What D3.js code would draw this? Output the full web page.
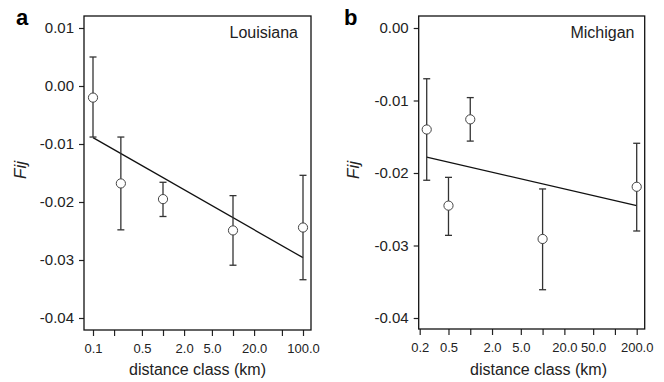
<!DOCTYPE html>
<html>
<head>
<meta charset="utf-8">
<script src="https://cdn.jsdelivr.net/npm/d3@7"></script>
<style>
  body { margin: 0; background: #fff; }
  svg { display: block; font-family: "Liberation Sans", Arial, Helvetica, sans-serif; }
  .axis path.domain { display: none; }
  .axis line { stroke: #222; stroke-width: 1.2; }
  .axis text { fill: #222; }
  .box { fill: none; stroke: #111; stroke-width: 1.3; }
  .err { stroke: #333; stroke-width: 1.3; fill: none; }
  .pt { fill: #fff; stroke: #444; stroke-width: 1; }
  .fit { stroke: #111; stroke-width: 1.3; fill: none; }
</style>
</head>
<body>
<script>
// Louisiana (panel a)
const laDist  = [0.1, 0.25, 1, 10, 100];
const laFij   = [-0.0020, -0.0168, -0.0195, -0.0249, -0.0244];
const laUpper = [0.0050, -0.0088, -0.0166, -0.0189, -0.0154];
const laLower = [-0.0088, -0.0248, -0.0225, -0.0309, -0.0334];
const laFitX  = [0.1, 100];
const laFitY  = [-0.0089, -0.0296];
const laXTicks  = [0.1, 0.2, 0.5, 1, 2, 5, 10, 20, 50, 100];
const laXLabels = [0.1, 0.5, 2, 5, 20, 100];
const laYTicks  = [0.01, 0, -0.01, -0.02, -0.03, -0.04];

// Michigan (panel b)
const miDist  = [0.25, 0.5, 1, 10, 200];
const miFij   = [-0.0140, -0.0245, -0.0126, -0.0291, -0.0219];
const miUpper = [-0.0070, -0.0206, -0.0096, -0.0222, -0.0159];
const miLower = [-0.0210, -0.0286, -0.0156, -0.0361, -0.0280];
const miFitX  = [0.25, 200];
const miFitY  = [-0.0178, -0.0245];
const miXTicks  = [0.2, 0.5, 1, 2, 5, 10, 20, 50, 100, 200];
const miXLabels = [0.2, 0.5, 2, 5, 20, 50, 200];
const miYTicks  = [0, -0.01, -0.02, -0.03, -0.04];

const svg = d3.select(document.body).append('svg')
  .attr('width', 664)
  .attr('height', 382);

const panels = [
  {
    letter: 'a', name: 'Louisiana',
    dist: laDist, fij: laFij, upper: laUpper, lower: laLower,
    fitX: laFitX, fitY: laFitY,
    xTicks: laXTicks, xLabels: laXLabels, yTicks: laYTicks,
    xDomain: [0.1, 100], xRange: [93, 303],
    yDomain: [0.01, -0.04], yRange: [28, 318],
    box: { x0: 84, x1: 311, y0: 16, y1: 330 },
    letterX: 16, nameX: 298, fijX: 26, xlabX: 197.5
  },
  {
    letter: 'b', name: 'Michigan',
    dist: miDist, fij: miFij, upper: miUpper, lower: miLower,
    fitX: miFitX, fitY: miFitY,
    xTicks: miXTicks, xLabels: miXLabels, yTicks: miYTicks,
    xDomain: [0.2, 200], xRange: [419.7, 636.7],
    yDomain: [0, -0.04], yRange: [28, 318],
    box: { x0: 418.7, x1: 644.7, y0: 16, y1: 329 },
    letterX: 344, nameX: 634.5, fijX: 359, xlabX: 538.5
  }
];

panels.forEach(p => {
  const x = d3.scaleLog().domain(p.xDomain).range(p.xRange);
  const y = d3.scaleLinear().domain(p.yDomain).range(p.yRange);
  const g = svg.append('g');
  const b = p.box;

  // x axis
  g.append('g')
    .attr('class', 'axis')
    .attr('transform', `translate(0,${b.y1})`)
    .call(d3.axisBottom(x)
      .tickValues(p.xTicks)
      .tickSize(6)
      .tickPadding(8)
      .tickFormat(d => p.xLabels.includes(d) ? d.toFixed(1) : ''))
    .selectAll('text')
    .style('font-size', '13px');

  // y axis
  g.append('g')
    .attr('class', 'axis')
    .attr('transform', `translate(${b.x0},0)`)
    .call(d3.axisLeft(y)
      .tickValues(p.yTicks)
      .tickSize(5)
      .tickPadding(5)
      .tickFormat(d => d.toFixed(2)))
    .selectAll('text')
    .style('font-size', '15px');

  // frame
  g.append('rect')
    .attr('class', 'box')
    .attr('x', b.x0).attr('y', b.y0)
    .attr('width', b.x1 - b.x0).attr('height', b.y1 - b.y0);

  // regression line
  g.append('path')
    .attr('class', 'fit')
    .attr('d', d3.line()(p.fitX.map((d, i) => [x(d), y(p.fitY[i])])));

  const idx = p.dist.map((d, i) => i);

  // error bars
  const cap = 3.5;
  idx.forEach(i => {
    const cx = x(p.dist[i]);
    g.append('line').attr('class', 'err')
      .attr('x1', cx).attr('x2', cx)
      .attr('y1', y(p.upper[i])).attr('y2', y(p.lower[i]));
    [p.upper[i], p.lower[i]].forEach(v => {
      g.append('line').attr('class', 'err')
        .attr('x1', cx - cap).attr('x2', cx + cap)
        .attr('y1', y(v)).attr('y2', y(v));
    });
  });

  // points
  g.selectAll('.pt')
    .data(idx)
    .enter().append('circle')
    .attr('class', 'pt')
    .attr('cx', i => x(p.dist[i]))
    .attr('cy', i => y(p.fij[i]))
    .attr('r', 4.6);

  // texts
  g.append('text')
    .attr('x', p.letterX).attr('y', 25)
    .style('font-size', '22px').style('font-weight', 'bold')
    .text(p.letter);

  g.append('text')
    .attr('x', p.nameX).attr('y', 38)
    .attr('text-anchor', 'end')
    .style('font-size', '16px').style('fill', '#222')
    .text(p.name);

  g.append('text')
    .attr('transform', `translate(${p.fijX},170) rotate(-90)`)
    .attr('text-anchor', 'middle')
    .style('font-size', '17px').style('font-style', 'italic').style('fill', '#222')
    .text('Fij');

  g.append('text')
    .attr('x', p.xlabX).attr('y', 375)
    .attr('text-anchor', 'middle')
    .style('font-size', '16px').style('fill', '#222')
    .text('distance class (km)');
});
</script>
</body>
</html>
